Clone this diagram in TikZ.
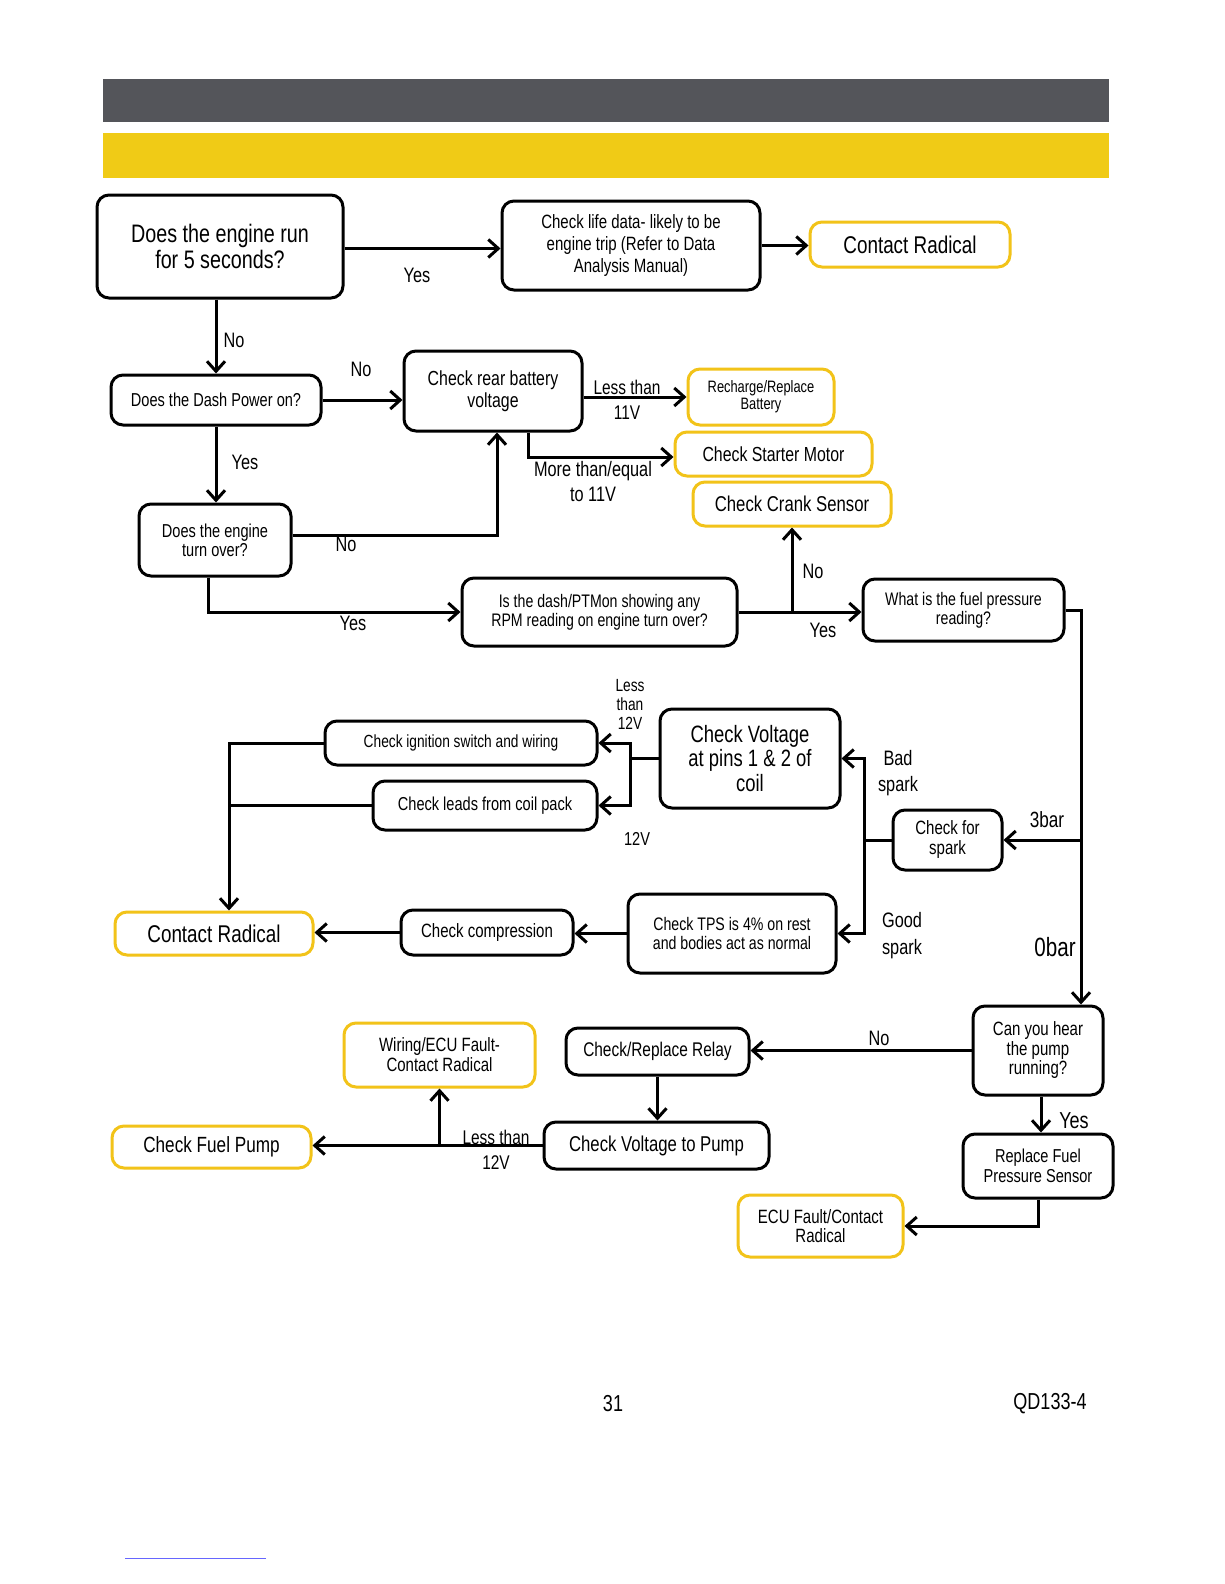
\documentclass[tikz,border=0pt]{standalone}
\usepackage{fontspec}
\setmainfont{Liberation Sans}[FakeStretch=0.78]
\usetikzlibrary{arrows.meta,calc}
\definecolor{ybord}{RGB}{242,195,25}
\definecolor{hdrYellow}{RGB}{240,203,22}
\definecolor{hdrGray}{RGB}{84,85,90}
\newcommand\fsz[2]{\fontsize{\fpeval{#1*1.1}}{#2}\selectfont}
\tikzset{
  box/.style={draw=black, line width=3pt, rounded corners=12pt, align=center, inner sep=0pt, fill=white},
  ybox/.style={box, draw=ybord},
  arr/.style={line width=3pt, -{Straight Barb[length=10pt,width=18pt]}},
  ln/.style={line width=3pt},
  lbl/.style={inner sep=0pt, align=center},
}
\begin{document}
\begin{tikzpicture}[x=1pt,y=-1pt]
\useasboundingbox (0,0) rectangle (1224,1584);
\fill[white] (0,0) rectangle (1224,1584);
% header bars
\fill[fill=hdrGray] (103,79) rectangle (1109,122);
\fill[fill=hdrYellow] (103,133) rectangle (1109,178);

% nodes
\node[box, minimum width=246pt, minimum height=103pt, font=\fsz{23}{26}] (A) at (220,246.5) {Does the engine run\\for 5 seconds?};
\node[box, minimum width=258pt, minimum height=89pt, font=\fsz{17.5}{22}] (B) at (631,245.5) {Check life data- likely to be\\engine trip (Refer to Data\\Analysis Manual)};
\node[ybox, minimum width=200pt, minimum height=45pt, font=\fsz{22}{26}] (C) at (910,244.5) {Contact Radical};
\node[box, minimum width=210pt, minimum height=50pt, font=\fsz{17}{20}] (D) at (216,400) {Does the Dash Power on?};
\node[box, minimum width=178pt, minimum height=80pt, font=\fsz{18.5}{22}] (E) at (493,391) {Check rear battery\\voltage};
\node[ybox, minimum width=146pt, minimum height=56pt, font=\fsz{15}{17}] (F) at (761,397) {Recharge/Replace\\Battery};
\node[ybox, minimum width=197pt, minimum height=44pt, font=\fsz{18.5}{22}] (G) at (773.5,454) {Check Starter Motor};
\node[ybox, minimum width=198pt, minimum height=44pt, font=\fsz{19.5}{22}] (H) at (792,504) {Check Crank Sensor};
\node[box, minimum width=152pt, minimum height=72pt, font=\fsz{17}{19}] (I) at (215,540) {Does the engine\\turn over?};
\node[box, minimum width=275pt, minimum height=68pt, font=\fsz{16.5}{19}] (J) at (599.5,612) {Is the dash/PTMon showing any\\RPM reading on engine turn over?};
\node[box, minimum width=201pt, minimum height=62pt, font=\fsz{16.5}{19}] (K) at (963.5,610) {What is the fuel pressure\\reading?};
\node[box, minimum width=272pt, minimum height=44pt, font=\fsz{16}{19}] (L) at (461,743) {Check ignition switch and wiring};
\node[box, minimum width=224pt, minimum height=49pt, font=\fsz{17}{20}] (M) at (485,805.5) {Check leads from coil pack};
\node[box, minimum width=180pt, minimum height=99pt, font=\fsz{21.5}{24.5}] (N) at (750,758.5) {Check Voltage\\at pins 1 \& 2 of\\coil};
\node[box, minimum width=109pt, minimum height=60pt, font=\fsz{17.5}{20}] (O) at (947.5,840) {Check for\\spark};
\node[ybox, minimum width=198pt, minimum height=43pt, font=\fsz{22}{26}] (P) at (214,933.5) {Contact Radical};
\node[box, minimum width=172pt, minimum height=45pt, font=\fsz{17.5}{20}] (Q) at (487,932.5) {Check compression};
\node[box, minimum width=208pt, minimum height=79pt, font=\fsz{16.5}{19}] (R) at (732,933.5) {Check TPS is 4\% on rest\\and bodies act as normal};
\node[box, minimum width=130pt, minimum height=89pt, font=\fsz{17.5}{19.5}] (S) at (1038,1050.5) {Can you hear\\the pump\\running?};
\node[box, minimum width=183pt, minimum height=47pt, font=\fsz{18}{21}] (T) at (657.5,1051.5) {Check/Replace Relay};
\node[ybox, minimum width=191pt, minimum height=64pt, font=\fsz{17.5}{20}] (U) at (439.5,1055) {Wiring/ECU Fault-\\Contact Radical};
\node[box, minimum width=225pt, minimum height=47pt, font=\fsz{19.5}{22}] (V) at (656.5,1145.5) {Check Voltage to Pump};
\node[ybox, minimum width=199pt, minimum height=42pt, font=\fsz{20}{23}] (W) at (211.5,1147) {Check Fuel Pump};
\node[box, minimum width=150pt, minimum height=64pt, font=\fsz{17}{20}] (X) at (1038,1166) {Replace Fuel\\Pressure Sensor};
\node[ybox, minimum width=165pt, minimum height=62pt, font=\fsz{17.5}{19.5}] (Y) at (820.5,1226) {ECU Fault/Contact\\Radical};

% helper coordinates
\coordinate (kv) at ([xshift=43pt]S.north);
\coordinate (ov) at ([xshift=-27pt]O.west);
\coordinate (nv) at ([xshift=-28pt]N.west);
\coordinate (pv) at ([xshift=15pt]P.north);

% connectors
\draw[arr] ([yshift=-2pt]A.east) -- ([yshift=-2pt]A.east -| B.west);
\draw[arr] (B.east) -- (B.east -| C.west);
\draw[arr] (D.north |- A.south) -- (D.north);
\draw[arr] (D.east) -- (D.east -| E.west);
\draw[arr] (F.west -| E.east) -- (F.west);
\draw[arr] ([xshift=35pt]E.south) |- ([yshift=-3pt]G.west);
\draw[arr] (D.south) -- (D.south |- I.north);
\draw[arr] ([yshift=5pt]I.east) -| ([xshift=4pt]E.south);
\draw[arr] ([xshift=-7pt]I.south) |- (J.west);
\draw[arr] (J.east) -- (J.east -| K.west);
\draw[arr] (H.south |- J.east) -- (H.south);
\draw[arr] (K.east) -| (kv);
\draw[arr] (kv |- O.east) -- (O.east);
\draw[ln] (O.west) -- (ov);
\draw[arr] (ov) |- (N.east);
\draw[arr] (ov) |- (R.east);
\draw[ln] (N.west) -- (nv);
\draw[arr] (nv) |- (L.east);
\draw[arr] (nv) |- (M.east);
\draw[arr] (L.west) -| (pv);
\draw[ln] (M.west) -- (M.west -| pv);
\draw[arr] (R.west) -- (R.west -| Q.east);
\draw[arr] (Q.west) -- (Q.west -| P.east);
\draw[arr] (S.west) -- (S.west -| T.east);
\draw[arr] (T.south) -- (T.south |- V.north);
\draw[arr] (V.west) -- (V.west -| W.east);
\draw[arr] (U.south |- V.west) -- (U.south);
\draw[arr] ([xshift=3pt]S.south) -- ([xshift=3pt]S.south |- X.north);
\draw[arr] (X.south) |- (Y.east);

% labels
\node[lbl, font=\fsz{19}{22}] (l1) at (417,275) {Yes};
\node[lbl, font=\fsz{19}{22}] (l2) at (234,340) {No};
\node[lbl, font=\fsz{19}{22}] (l3) at (361,369) {No};
\node[lbl, font=\fsz{18}{25}] (l4) at (627,400) {Less than\\11V};
\node[lbl, font=\fsz{19}{25}] (l5) at (593,482) {More than/equal\\to 11V};
\node[lbl, font=\fsz{19}{22}] (l6) at (245,462) {Yes};
\node[lbl, font=\fsz{19}{22}] (l7) at (346,544) {No};
\node[lbl, font=\fsz{19}{22}] (l8) at (353,623) {Yes};
\node[lbl, font=\fsz{19}{22}] (l9) at (813,571) {No};
\node[lbl, font=\fsz{19}{22}] (l10) at (823,630) {Yes};
\node[lbl, font=\fsz{20}{22}] (l11) at (1047,820) {3bar};
\node[lbl, font=\fsz{24}{26}] (l12) at (1055,947) {0bar};
\node[lbl, font=\fsz{19}{26}] (l13) at (898,773) {Bad\\spark};
\node[lbl, font=\fsz{19}{27}] (l14) at (902,935.5) {Good\\spark};
\node[lbl, font=\fsz{16}{19}] (l15) at (630,704) {Less\\than\\12V};
\node[lbl, font=\fsz{17}{20}] (l16) at (637,839) {12V};
\node[lbl, font=\fsz{19}{22}] (l17) at (879,1038) {No};
\node[lbl, font=\fsz{18}{25}] (l18) at (496,1149.5) {Less than\\12V};
\node[lbl, font=\fsz{21}{24}] (l19) at (1074,1121) {Yes};

% footer
\node[lbl, font=\fsz{21}{24}] (pg) at (613,1404) {31};
\node[lbl, font=\fsz{21}{24}] (doc) at (1050,1404) {QD133-4};
\draw[blue!60, line width=1pt] (125,1558) -- (266,1558);
\end{tikzpicture}
\end{document}
